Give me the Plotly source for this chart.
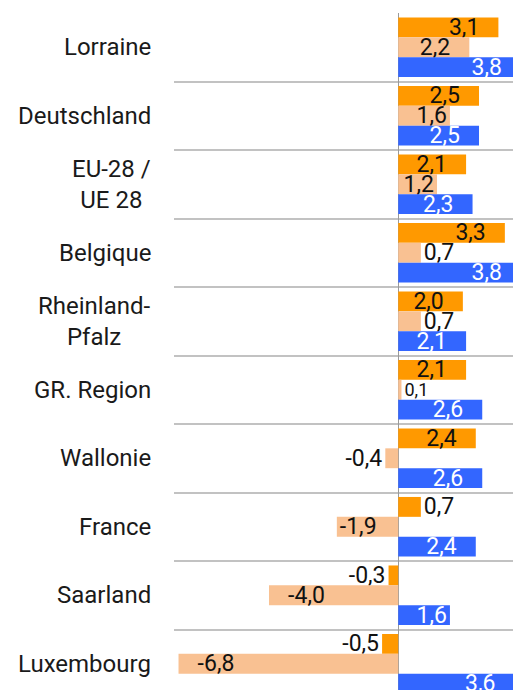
import plotly.graph_objects as go

# Regions and the three series shown for each (percent)
regions = ["Lorraine", "Deutschland", "EU-28 /<br>UE 28", "Belgique", "Rheinland-<br>Pfalz",
           "GR. Region", "Wallonie", "France", "Saarland", "Luxembourg"]
series_a = [3.1, 2.5, 2.1, 3.3, 2.0, 2.1, 2.4, 0.7, -0.3, -0.5]
series_b = [2.2, 1.6, 1.2, 0.7, 0.7, 0.1, -0.4, -1.9, -4.0, -6.8]
series_c = [3.8, 2.5, 2.3, 3.8, 2.1, 2.6, 2.6, 2.4, 1.6, 3.6]

colors = ["#FF9900", "#F9C192", "#3366FF"]
text_colors = ["#111111", "#111111", "#FFFFFF"]
FONT = "Roboto"
PAD = "\u00a0\u00a0\u2009"


def fmt(v):
    return f"{v:.1f}".replace(".", ",")


def labels(values):
    """Value labels with a little breathing room at the bar tip."""
    out, pos, size = [], [], []
    for v in values:
        s = fmt(v)
        size.append(18 if abs(v) < 0.2 else 23)
        if abs(v) < 1:
            out.append(s)
            pos.append("outside")
            continue
        pad = PAD if abs(v) >= 2 else ""
        out.append(s + pad if v > 0 else pad + s)
        pos.append("inside")
    return out, pos, size


fig = go.Figure()
for vals, col, tcol in zip([series_a, series_b, series_c], colors, text_colors):
    txt, pos, size = labels(vals)
    fig.add_trace(go.Bar(
        y=regions, x=vals, orientation="h",
        marker=dict(color=col, line=dict(width=0)),
        text=txt, textposition=pos, insidetextanchor="end",
        textfont=dict(family=FONT, size=size, color=tcol),
        outsidetextfont=dict(family=FONT, size=size, color="#111111"),
        constraintext="none", cliponaxis=False,
        hoverinfo="skip", showlegend=False,
    ))

# Region names, centred line by line and right-aligned against the plot
for r in regions:
    fig.add_annotation(
        x=0, xref="paper", y=r, yref="y", text=r, showarrow=False,
        xanchor="right", yanchor="middle", align="center", xshift=-21,
        font=dict(family=FONT, size=24, color="#1A1A1A"),
    )

fig.update_layout(
    width=532, height=690,
    margin=dict(l=174, r=0, t=13, b=0),
    paper_bgcolor="white", plot_bgcolor="white",
    barmode="group", bargap=0.13, bargroupgap=0,
    xaxis=dict(range=[-6.94, 4.14], showticklabels=False, showgrid=False,
               zeroline=True, zerolinecolor="#9A9A9A", zerolinewidth=1.2,
               fixedrange=True),
    yaxis=dict(type="category", range=[9.383, -0.5], tickson="boundaries",
               showticklabels=False, showgrid=True, gridcolor="#C2C2C2",
               gridwidth=1.5, ticks="", zeroline=False, fixedrange=True),
    font=dict(family=FONT),
)

fig.write_html("out.html", config={"displayModeBar": False})
